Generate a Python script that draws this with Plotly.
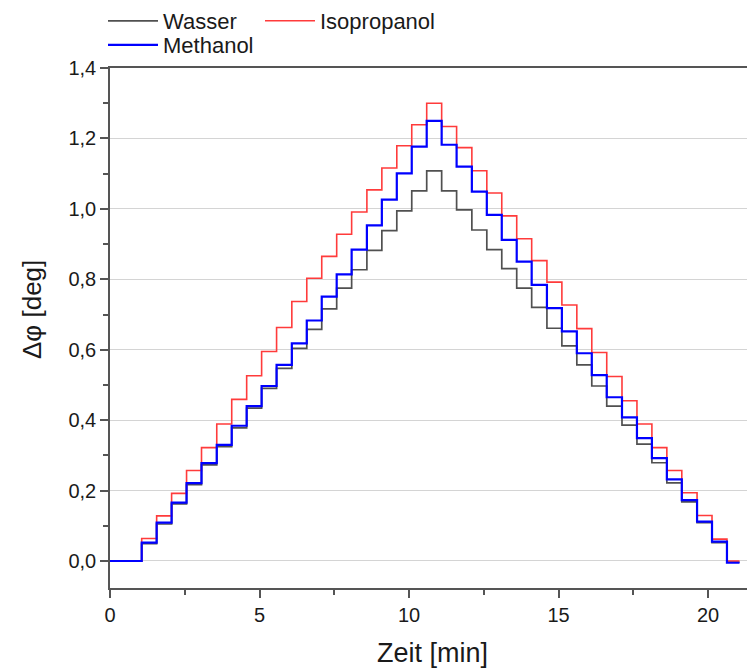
import plotly.graph_objects as go

# ---- data ----
start_time = 0.0
end_time = 21.05
# times (min) at which the phase level switches (20 rises, then 20 falls)
switch_times = [1.06, 1.56, 2.06, 2.56, 3.06, 3.57, 4.07, 4.57, 5.07, 5.57,
                6.08, 6.58, 7.08, 7.58, 8.08, 8.59, 9.09, 9.59, 10.09, 10.59,
                11.09, 11.59, 12.10, 12.60, 13.10, 13.60, 14.10, 14.61, 15.11, 15.61,
                16.11, 16.61, 17.12, 17.62, 18.12, 18.62, 19.12, 19.63, 20.13, 20.63]

wasser = [0.049, 0.105, 0.162, 0.217, 0.273, 0.325, 0.378, 0.434, 0.490, 0.547,
          0.604, 0.658, 0.716, 0.775, 0.827, 0.882, 0.938, 0.994, 1.051, 1.108,
          1.051, 0.997, 0.940, 0.884, 0.830, 0.775, 0.720, 0.661, 0.611, 0.557,
          0.497, 0.440, 0.386, 0.332, 0.279, 0.222, 0.168, 0.109, 0.052, -0.003]

isopropanol = [0.064, 0.128, 0.192, 0.257, 0.322, 0.389, 0.459, 0.526, 0.595, 0.663,
               0.737, 0.803, 0.865, 0.928, 0.991, 1.054, 1.116, 1.179, 1.239, 1.300,
               1.234, 1.174, 1.108, 1.045, 0.980, 0.915, 0.853, 0.792, 0.727, 0.660,
               0.592, 0.524, 0.455, 0.389, 0.322, 0.257, 0.194, 0.129, 0.062, 0.000]

methanol = [0.052, 0.109, 0.166, 0.221, 0.278, 0.330, 0.384, 0.440, 0.497, 0.557,
            0.618, 0.683, 0.751, 0.814, 0.884, 0.953, 1.026, 1.101, 1.177, 1.250,
            1.182, 1.120, 1.049, 0.983, 0.912, 0.850, 0.784, 0.718, 0.652, 0.590,
            0.528, 0.465, 0.408, 0.349, 0.292, 0.232, 0.173, 0.112, 0.055, -0.005]

x_ticks = [0, 5, 10, 15, 20]
y_ticks = [0.0, 0.2, 0.4, 0.6, 0.8, 1.0, 1.2, 1.4]

FONT = "Liberation Sans, Arial, sans-serif"
TXT = "#1a1a1a"
AX = "#555555"

def series(levels):
    xs = [start_time] + switch_times + [end_time]
    ys = [0.0] + levels + [levels[-1]]
    return xs, ys

fig = go.Figure()
for name, vals, color, width, leg in [
    ("Wasser", wasser, "#505050", 1.7, "legend"),
    ("Isopropanol", isopropanol, "#ff3b3b", 1.6, "legend3"),
    ("Methanol", methanol, "#0000ff", 2.2, "legend2"),
]:
    xs, ys = series(vals)
    fig.add_trace(go.Scatter(x=xs, y=ys, mode="lines", name=name,
                             line=dict(color=color, width=width, shape="hv"),
                             legend=leg))

W, H = 747, 668
L, R, T, B = 110, 0, 68, 80
pw, ph = W - L - R, H - T - B

def px_x(p):
    return (p - L) / pw

def px_y(p):
    return (H - B - p) / ph

def leg(x, y):
    return dict(orientation="h", x=px_x(x), y=px_y(y), xanchor="left", yanchor="top",
                bgcolor="rgba(0,0,0,0)", font=dict(size=22, color=TXT), itemwidth=50)

fig.update_layout(
    width=W, height=H,
    margin=dict(l=L, r=R, t=T, b=B, pad=0),
    paper_bgcolor="white", plot_bgcolor="white",
    separators=",.",
    font=dict(family=FONT, size=20, color=TXT),
    showlegend=True,
    legend=leg(103, 0),
    legend3=leg(260, 0),
    legend2=leg(103, 24),
    xaxis=dict(range=[0, 21.3], tickvals=x_ticks, showgrid=False, zeroline=False,
               showline=True, linecolor=AX, linewidth=1.5, mirror=True, automargin=False,
               ticks="outside", ticklen=8, tickwidth=1.5, tickcolor=AX,
               minor=dict(dtick=2.5, ticks="outside", ticklen=5, tickwidth=1.5, tickcolor=AX),
               tickfont=dict(size=20, color=TXT)),
    yaxis=dict(range=[-0.0767, 1.4], tickvals=y_ticks, tickformat=".1f",
               showgrid=True, gridcolor="#d4d4d4", gridwidth=1, zeroline=False,
               showline=True, linecolor=AX, linewidth=1.5, mirror=False, automargin=False,
               ticks="outside", ticklen=8, tickwidth=1.5, tickcolor=AX,
               minor=dict(dtick=0.1, ticks="outside", ticklen=5, tickwidth=1.5, tickcolor=AX),
               tickfont=dict(size=20, color=TXT)),
    annotations=[
        dict(text="Zeit [min]", xref="paper", yref="paper", x=px_x(432), y=px_y(653),
             showarrow=False, font=dict(size=27, color=TXT), xanchor="center", yanchor="middle"),
        dict(text="Δφ [deg]", xref="paper", yref="paper", x=px_x(32), y=px_y(310),
             showarrow=False, textangle=-90, font=dict(size=26, color=TXT),
             xanchor="center", yanchor="middle"),
    ],
)

fig.write_html("out.html")
